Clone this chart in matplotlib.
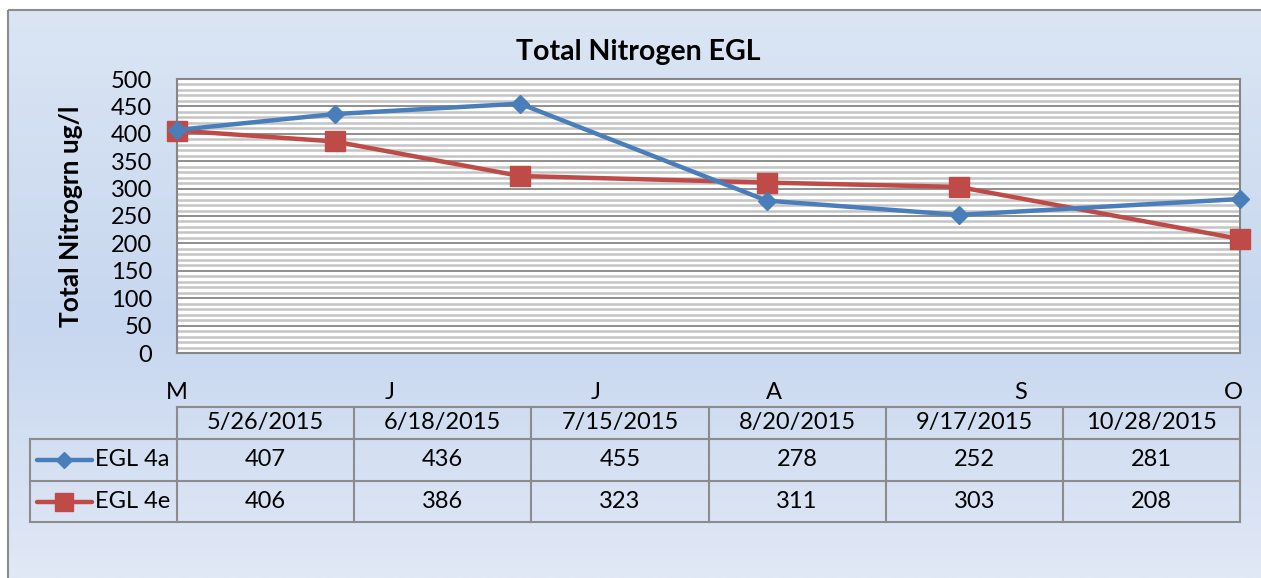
import numpy as np
import matplotlib
matplotlib.use("Agg")
import matplotlib.pyplot as plt
import matplotlib.dates as mdates
from matplotlib.ticker import MultipleLocator
from matplotlib.patches import Rectangle
from matplotlib.lines import Line2D
import pandas as pd

# data
sample_dates = ["2015-05-26", "2015-06-18", "2015-07-15", "2015-08-20", "2015-09-17", "2015-10-28"]
date_labels = ["5/26/2015", "6/18/2015", "7/15/2015", "8/20/2015", "9/17/2015", "10/28/2015"]
egl_4a = [407, 436, 455, 278, 252, 281]
egl_4e = [406, 386, 323, 311, 303, 208]
series_names = ["EGL 4a", "EGL 4e"]
month_letters = ["M", "J", "J", "A", "S", "O"]
month_label_dates = ["2015-05-26", "2015-06-26", "2015-07-26", "2015-08-21", "2015-09-26", "2015-10-27"]

blue = "#4a7ebb"
red = "#be4b48"
grid_dark = "#868686"
grid_light = "#c4c4c4"
border = "#8c8c8c"
font = ["Lato", "DejaVu Sans"]
fs = 17

W, H = 1261, 578
plt.rcParams["font.family"] = font

fig = plt.figure(figsize=(W / 100, H / 100), dpi=100)
fig.patch.set_facecolor("white")

# background panel with vertical gradient
bg = fig.add_axes([0, 0, 1, 1])
bg.set_xlim(0, W)
bg.set_ylim(H, 0)
bg.axis("off")
stops = np.array([[219, 229, 244], [199, 215, 239], [225, 232, 246]]) / 255.0
t = np.linspace(0, 1, 200)
grad = np.empty((200, 1, 3))
for c in range(3):
    grad[:, 0, c] = np.interp(t, [0, 0.55, 1], stops[:, c])
bg.imshow(grad, extent=[8, W, H, 10], aspect="auto", interpolation="bilinear")
bg.add_patch(Rectangle((8, 10), W + 10, H + 10, fill=False, edgecolor=border, lw=1.5))

# plot area
left, right, top, bottom = 177, 1240, 79, 353
ax = fig.add_axes([left / W, 1 - bottom / H, (right - left) / W, (bottom - top) / H])
ax.set_facecolor("white")
ax.set_axisbelow(True)

x = mdates.date2num(pd.to_datetime(sample_dates))
ax.plot(x, egl_4a, color=blue, lw=3.2, marker="D", ms=9.5, clip_on=False, zorder=4)
ax.plot(x, egl_4e, color=red, lw=3.2, marker="s", ms=14.5, clip_on=False, zorder=3)

ax.set_xlim(x[0], x[-1])
ax.set_ylim(0, 500)
ax.set_yticks(np.arange(0, 501, 50))
ax.yaxis.set_minor_locator(MultipleLocator(10))
ax.grid(axis="y", which="minor", color=grid_light, lw=1.8)
ax.grid(axis="y", which="major", color=grid_dark, lw=1.3)
ax.tick_params(axis="y", which="both", length=0, labelsize=fs, pad=18)

month_x = mdates.date2num(pd.to_datetime(month_label_dates))
ax.set_xticks(month_x)
ax.set_xticklabels(month_letters)
ax.tick_params(axis="x", length=0, labelsize=fs, pad=21)

for s in ax.spines.values():
    s.set_color(grid_dark)
    s.set_linewidth(1.5)

ax.set_ylabel("Total Nitrogrn ug/l", fontsize=19, fontweight="bold", labelpad=20)
fig.text(638 / W, 1 - 52 / H, "Total Nitrogen EGL", ha="center", va="center",
         fontsize=20.5, fontweight="bold")

# data table below the chart
tb = fig.add_axes([0, 0, 1, 1], facecolor="none")
tb.set_xlim(0, W)
tb.set_ylim(H, 0)
tb.axis("off")
n = len(date_labels)
col_edges = np.linspace(left, right, n + 1)
row_edges = [407, 439, 481, 522]
key_left = 30
lc = dict(color=border, lw=1.5)

tb.plot([left, right], [row_edges[0], row_edges[0]], **lc)
for yy in row_edges[1:]:
    tb.plot([key_left, right], [yy, yy], **lc)
for xx in col_edges:
    tb.plot([xx, xx], [row_edges[0], row_edges[-1]], **lc)
tb.plot([key_left, key_left], [row_edges[1], row_edges[-1]], **lc)

for i, lab in enumerate(date_labels):
    xc = (col_edges[i] + col_edges[i + 1]) / 2
    tb.text(xc, (row_edges[0] + row_edges[1]) / 2, lab, ha="center", va="center", fontsize=fs)
    for r, vals in enumerate([egl_4a, egl_4e]):
        tb.text(xc, (row_edges[r + 1] + row_edges[r + 2]) / 2, str(vals[i]),
                ha="center", va="center", fontsize=fs)

for r, (name, col, mk, ms) in enumerate(zip(series_names, [blue, red], ["D", "s"], [9.5, 14.5])):
    yc = (row_edges[r + 1] + row_edges[r + 2]) / 2
    tb.add_line(Line2D([37, 92], [yc, yc], color=col, lw=3.2, solid_capstyle="round"))
    tb.add_line(Line2D([64], [yc], color=col, marker=mk, ms=ms * 0.85, lw=0))
    tb.text(95, yc, name, ha="left", va="center", fontsize=fs)

fig.savefig("out.png", dpi=100)
